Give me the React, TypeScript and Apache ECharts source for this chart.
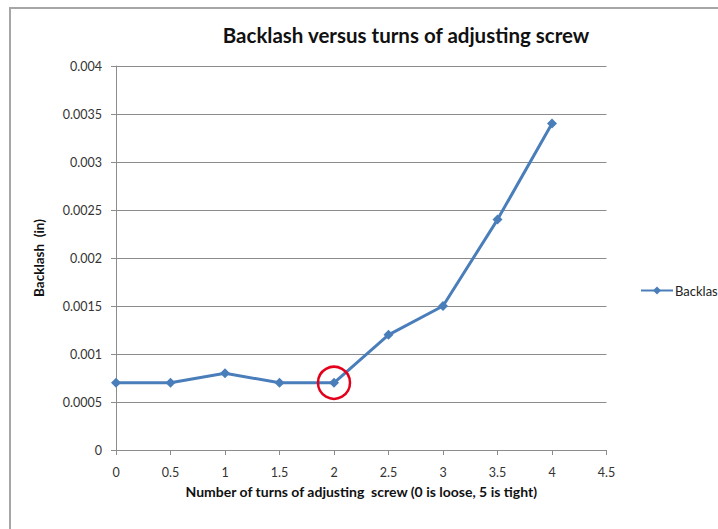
import React, { useEffect, useRef } from "react";
import * as echarts from "echarts";

const turns = [0, 0.5, 1, 1.5, 2, 2.5, 3, 3.5, 4];
const backlash = [0.0007, 0.0007, 0.0008, 0.0007, 0.0007, 0.0012, 0.0015, 0.0024, 0.0034];
const highlighted = [2, 0.0007];
const seriesName = "Backlash";
const titleText = "Backlash versus turns of adjusting screw";
const xName = "Number of turns of adjusting  screw (0 is loose, 5 is tight)";
const yName = "Backlash  (in)";

export default function App() {
  const ref = useRef<HTMLDivElement>(null);
  useEffect(() => {
    document.body.style.margin = "0";
    document.body.style.overflow = "hidden";
    const chart = echarts.init(ref.current!, null, { renderer: "svg" });
    const font = "Lato, 'Open Sans', sans-serif";
    chart.setOption({
      animation: false,
      backgroundColor: "#ffffff",
      textStyle: { fontFamily: font },
      title: {
        text: titleText,
        left: 401,
        top: 19,
        textAlign: "center",
        textStyle: { fontFamily: font, fontSize: 20.5, fontWeight: "bold", color: "#111" },
      },
      legend: {
        left: 640,
        top: 284,
        padding: 0,
        itemWidth: 32,
        itemHeight: 10,
        itemGap: 4,
        textStyle: { fontFamily: font, fontSize: 13, color: "#222", padding: [0, 0, 0, -3] },
        data: [seriesName],
      },
      graphic: [
        {
          type: "rect",
          shape: { x: 10, y: 8, width: 900, height: 700 },
          style: { fill: "none", stroke: "#a6a6a6", lineWidth: 2 },
          silent: true,
          z: -1,
        },
      ],
      grid: { left: 116, right: 111.5, top: 66, bottom: 79, containLabel: false },
      xAxis: {
        type: "value",
        min: 0,
        max: 4.5,
        interval: 0.5,
        name: xName,
        nameLocation: "middle",
        nameGap: 34,
        nameTextStyle: { fontFamily: font, fontSize: 14, fontWeight: "bold", color: "#111" },
        axisLine: { show: true, onZero: false, lineStyle: { color: "#8c8c8c", width: 1 } },
        axisTick: { show: true, inside: false, length: 5, lineStyle: { color: "#8c8c8c" } },
        axisLabel: { margin: 16, fontSize: 12.5, color: "#333", fontFamily: font },
        splitLine: { show: false },
      },
      yAxis: {
        type: "value",
        min: 0,
        max: 0.004,
        interval: 0.0005,
        name: yName,
        nameLocation: "middle",
        nameGap: 70,
        nameRotate: 90,
        nameTextStyle: { fontFamily: font, fontSize: 13.5, fontWeight: "bold", color: "#111" },
        axisLine: { show: true, lineStyle: { color: "#8c8c8c", width: 1 } },
        axisTick: { show: true, inside: false, length: 5, lineStyle: { color: "#8c8c8c" } },
        axisLabel: {
          margin: 14,
          fontSize: 12.5,
          color: "#333",
          fontFamily: font,
          formatter: (v: number) => String(parseFloat(v.toPrecision(6))),
        },
        splitLine: { show: true, lineStyle: { color: "#8c8c8c", width: 1 } },
      },
      series: [
        {
          name: seriesName,
          type: "line",
          data: turns.map((t, i) => [t, backlash[i]]),
          symbol: "diamond",
          symbolSize: 10,
          showAllSymbol: true,
          lineStyle: { color: "#4a7ebb", width: 3 },
          itemStyle: { color: "#4a7ebb" },
          markPoint: {
            symbol: "circle",
            symbolSize: 32,
            silent: true,
            label: { show: false },
            itemStyle: { color: "rgba(0,0,0,0)", borderColor: "#e3001b", borderWidth: 2.5 },
            data: [{ coord: highlighted }],
          },
        },
      ],
    });
    return () => chart.dispose();
  }, []);
  return <div ref={ref} style={{ width: 718, height: 529 }} />;
}
